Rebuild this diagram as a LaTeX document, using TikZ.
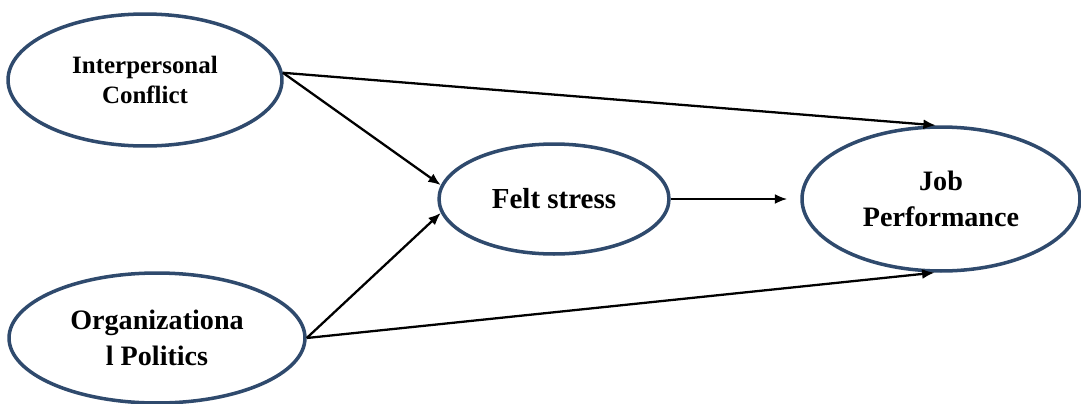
\documentclass[tikz,border=0pt]{standalone}
\usepackage{fontspec}
\setmainfont{Liberation Serif}
\usetikzlibrary{shapes.geometric,arrows.meta}
\definecolor{borde}{HTML}{2F4A6D}
\begin{document}
\begin{tikzpicture}[x=0.02cm,y=-0.02cm,
    constructo/.style={ellipse,draw=borde,line width=2pt,inner sep=0pt,
      align=center,font=\bfseries\fontsize{16}{20.5}\selectfont},
    flecha/.style={-{Latex[length=2.5mm,width=2mm]},line width=1.3pt}]
    \useasboundingbox (0,0) rectangle (1081,403);

    % Variables del modelo
    \node[constructo,minimum width=5.48cm,minimum height=2.64cm,
      font=\bfseries\fontsize{14.2}{17}\selectfont] (ic) at (145,80)
      {Interpersonal\\Conflict};
    \node[constructo,minimum width=5.92cm,minimum height=2.6cm] (op) at (157,338)
      {Organizationa\\l Politics};
    \node[constructo,minimum width=4.6cm,minimum height=2.2cm,
      font=\bfseries\fontsize{16.5}{20}\selectfont] (fs) at (554,199)
      {Felt stress};
    \node[constructo,minimum width=5.56cm,minimum height=2.88cm] (jp) at (941,199)
      {Job\\Performance};

    % Relaciones
    \draw[flecha] (ic.3) -- (fs.173);
    \draw[flecha] (op.east) -- (fs.187);
    \draw[flecha] (ic.3) -- (jp.94);
    \draw[flecha] (op.east) -- (jp.265);
    \draw[flecha,shorten >=0.26cm] (fs.east) -- (jp.west);
\end{tikzpicture}
\end{document}
